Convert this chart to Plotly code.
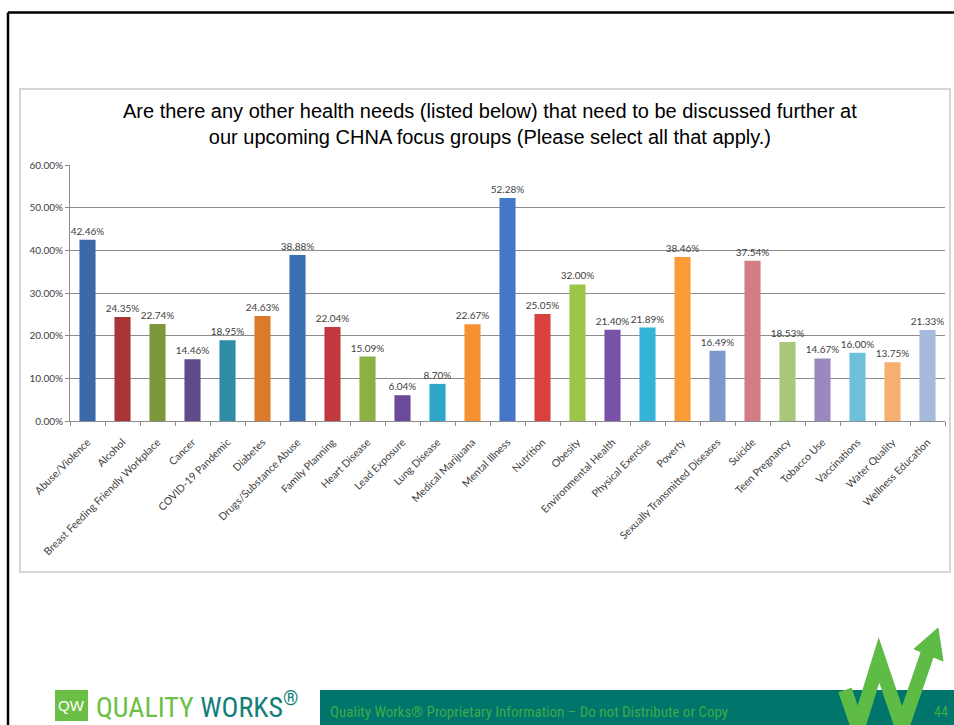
import plotly.graph_objects as go

categories = ["Abuse/Violence", "Alcohol", "Breast Feeding Friendly Workplace", "Cancer",
              "COVID-19 Pandemic", "Diabetes", "Drugs/Substance Abuse", "Family Planning",
              "Heart Disease", "Lead Exposure", "Lung Disease", "Medical Marijuana",
              "Mental Illness", "Nutrition", "Obesity", "Environmental Health",
              "Physical Exercise", "Poverty", "Sexually Transmitted Diseases", "Suicide",
              "Teen Pregnancy", "Tobacco Use", "Vaccinations", "Water Quality",
              "Wellness Education"]
values = [0.4246, 0.2435, 0.2274, 0.1446, 0.1895, 0.2463, 0.3888, 0.2204, 0.1509, 0.0604,
          0.0870, 0.2267, 0.5228, 0.2505, 0.3200, 0.2140, 0.2189, 0.3846, 0.1649, 0.3754,
          0.1853, 0.1467, 0.1600, 0.1375, 0.2133]
colors = ["#3A68A8", "#A93437", "#7D973A", "#5F4A8B", "#2E8CA5", "#DB7A2A",
          "#3C6EB4", "#C0393E", "#8EB042", "#6A4B9B", "#2EA6C8", "#F59131",
          "#4477C9", "#D8413F", "#9BC647", "#7752A6", "#35B4D8", "#FA9B35",
          "#7D99CB", "#D37C83", "#A9C77A", "#9A88BF", "#6EC0DA", "#F8AE6E", "#A6BADB"]
y_ticks = [0, 0.1, 0.2, 0.3, 0.4, 0.5, 0.6]
title_lines = ["Are there any other health needs (listed below) that need to be discussed further at",
               "our upcoming CHNA focus groups (Please select all that apply.)"]

W, H = 954, 725
L, R, T, B = 70, 945, 165, 421
NARROW = "Liberation Sans Narrow, Roboto Condensed, DejaVu Sans Condensed, Roboto"


def px(x):
    return (x - L) / (R - L)


def py(y):
    return (B - y) / (B - T)


fig = go.Figure()
fig.add_trace(go.Bar(
    x=categories, y=values,
    marker=dict(color=colors, line=dict(width=0)),
    width=0.46,
    text=[f"{v*100:.2f}%" for v in values],
    textposition="outside",
    constraintext="none",
    textfont=dict(family="Lato", size=10, color="#404040"),
    cliponaxis=False,
    hoverinfo="x+y",
))

shapes = []
# slide border
shapes.append(dict(type="line", xref="paper", yref="paper", x0=px(8), x1=px(960), y0=py(12.5), y1=py(12.5),
                   line=dict(color="black", width=2.5), layer="below"))
shapes.append(dict(type="line", xref="paper", yref="paper", x0=px(8), x1=px(8), y0=py(12.5), y1=py(730),
                   line=dict(color="black", width=2.5), layer="below"))
# chart box
shapes.append(dict(type="rect", xref="paper", yref="paper", x0=px(20), x1=px(950), y0=py(89), y1=py(572),
                   line=dict(color="#C8C8C8", width=1.5), fillcolor="rgba(0,0,0,0)", layer="below"))
# footer teal bar
shapes.append(dict(type="rect", xref="paper", yref="paper", x0=px(320), x1=px(960), y0=py(690), y1=py(730),
                   line=dict(width=0), fillcolor="#00756B", layer="above"))
# logo square
shapes.append(dict(type="rect", xref="paper", yref="paper", x0=px(55), x1=px(88), y0=py(690), y1=py(721),
                   line=dict(width=0), fillcolor="#6CBF45", layer="above"))


def path(points, close=False):
    s = "M " + " L ".join(f"{px(a)},{py(b)}" for a, b in points)
    return s + (" Z" if close else "")


# green W arrow
shapes.append(dict(type="path", xref="paper", yref="paper",
                   path=path([(845, 690), (858, 728), (879, 660), (902, 728), (928, 652)]),
                   line=dict(color="#5DBB46", width=14), layer="above"))
shapes.append(dict(type="path", xref="paper", yref="paper",
                   path=path([(938, 628), (914, 649), (943, 661)], close=True),
                   line=dict(color="#5DBB46", width=1), fillcolor="#5DBB46", layer="above"))

annotations = [
    dict(text="<br>".join(title_lines), xref="paper", yref="paper", x=px(490), y=py(124),
         xanchor="center", yanchor="middle", showarrow=False, align="center",
         font=dict(family="Liberation Sans", size=20, color="#000000")),
    dict(text="QW", xref="paper", yref="paper", x=px(71.5), y=py(705.5), xanchor="center", yanchor="middle",
         showarrow=False, font=dict(family="Liberation Sans", size=15, color="white")),
    dict(text="<span style='color:#6CBF45'>QUALITY</span> <span style='color:#137F7B'>WORKS</span><sup>®</sup>",
         xref="paper", yref="paper", x=px(94), y=py(705), xanchor="left", yanchor="middle",
         showarrow=False, font=dict(family=NARROW, size=28, color="#137F7B")),
    dict(text="Quality Works® Proprietary Information – Do not Distribute or Copy",
         xref="paper", yref="paper", x=px(328), y=py(712), xanchor="left", yanchor="middle",
         showarrow=False, font=dict(family=NARROW, size=15, color="#3DAA4A")),
    dict(text="44", xref="paper", yref="paper", x=px(941), y=py(712), xanchor="center", yanchor="middle",
         showarrow=False, font=dict(family=NARROW, size=14, color="#3DAA4A")),
]

fig.update_layout(
    width=W, height=H,
    margin=dict(l=L, r=W - R, t=T, b=H - B, pad=0),
    paper_bgcolor="white", plot_bgcolor="white",
    showlegend=False,
    bargap=0.54,
    shapes=shapes,
    annotations=annotations,
    xaxis=dict(
        type="category", tickangle=-45, tickson="boundaries",
        ticks="outside", ticklen=4, tickcolor="#8C8C8C",
        showline=True, linecolor="#8C8C8C", linewidth=1,
        showgrid=False,
        ticklabelstandoff=10,
        tickfont=dict(family="Lato", size=10.5, color="#404040"),
        range=[-0.5, len(categories) - 0.5],
    ),
    yaxis=dict(
        range=[0, 0.6], tickvals=y_ticks, tickformat=".2%",
        showgrid=True, gridcolor="#8C8C8C", gridwidth=1,
        showline=True, linecolor="#8C8C8C", linewidth=1,
        ticks="outside", ticklen=4, tickcolor="#8C8C8C",
        tickfont=dict(family="Lato", size=10, color="#404040"),
        zeroline=False,
    ),
)

fig.write_html("out.html", config={"displayModeBar": False},
               post_script="document.body.style.margin='0';document.body.style.overflow='hidden';")
